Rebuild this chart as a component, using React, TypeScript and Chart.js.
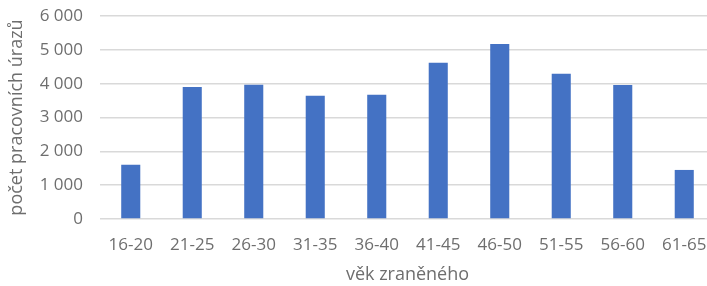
import React, { useEffect, useRef } from "react";
import { Chart, registerables } from "chart.js";

Chart.register(...registerables);

const categories = ["16-20", "21-25", "26-30", "31-35", "36-40", "41-45", "46-50", "51-55", "56-60", "61-65"];
const injuries = [1600, 3900, 3970, 3640, 3670, 4620, 5170, 4290, 3960, 1450];
const yTicks = [0, 1000, 2000, 3000, 4000, 5000, 6000];
const xTitle = "věk zraněného";
const yTitle = "počet pracovních úrazů";

const fmt = (v: number) => {
  const s = String(Math.round(v));
  return s.length > 3 ? s.slice(0, s.length - 3) + "\u00a0" + s.slice(-3) : s;
};

export default function App() {
  const ref = useRef<HTMLCanvasElement | null>(null);
  useEffect(() => {
    if (!ref.current) return;
    const textColor = "#6e6e6e";
    const fontFamily = "'Open Sans', sans-serif";
    const chart = new Chart(ref.current, {
      type: "bar",
      data: {
        labels: categories,
        datasets: [
          {
            data: injuries,
            backgroundColor: "#4472C4",
            borderWidth: 0,
            barPercentage: 0.31,
            categoryPercentage: 1,
          },
        ],
      },
      options: {
        animation: false,
        responsive: false,
        devicePixelRatio: 1,
        layout: { padding: { top: 16, right: 1, left: 0, bottom: 0 } },
        plugins: { legend: { display: false }, tooltip: { enabled: false } },
        scales: {
          x: {
            grid: { display: false, drawTicks: false },
            border: { display: false },
            ticks: { color: textColor, font: { family: fontFamily, size: 17 }, padding: 16, maxRotation: 0 },
            title: {
              display: true,
              text: xTitle,
              color: textColor,
              font: { family: fontFamily, size: 18 },
              padding: { top: 0, bottom: 0 },
            },
            afterFit: (s: any) => {
              s.height = 67;
              s.paddingLeft = 0;
              s.paddingRight = 0;
            },
          },
          y: {
            min: 0,
            max: 6000,
            afterBuildTicks: (s: any) => {
              s.ticks = yTicks.map((v) => ({ value: v }));
            },
            grid: { color: "#d9d9d9", lineWidth: 1.5, drawTicks: false },
            border: { display: false },
            ticks: {
              color: textColor,
              font: { family: fontFamily, size: 17 },
              padding: 17,
              callback: (v: any) => fmt(Number(v)),
            },
            title: {
              display: true,
              text: yTitle,
              color: textColor,
              font: { family: fontFamily, size: 18 },
              padding: { top: 6, bottom: 0 },
            },
            afterFit: (s: any) => {
              s.width = 100;
              s.paddingTop = 0;
              s.paddingBottom = 0;
            },
          },
        },
      },
    });
    return () => chart.destroy();
  }, []);
  return (
    <div style={{ position: "fixed", left: 0, top: 0, width: 707, height: 286, overflow: "hidden", background: "#fff" }}>
      <canvas ref={ref} width={716} height={286} style={{ display: "block" }} />
    </div>
  );
}
